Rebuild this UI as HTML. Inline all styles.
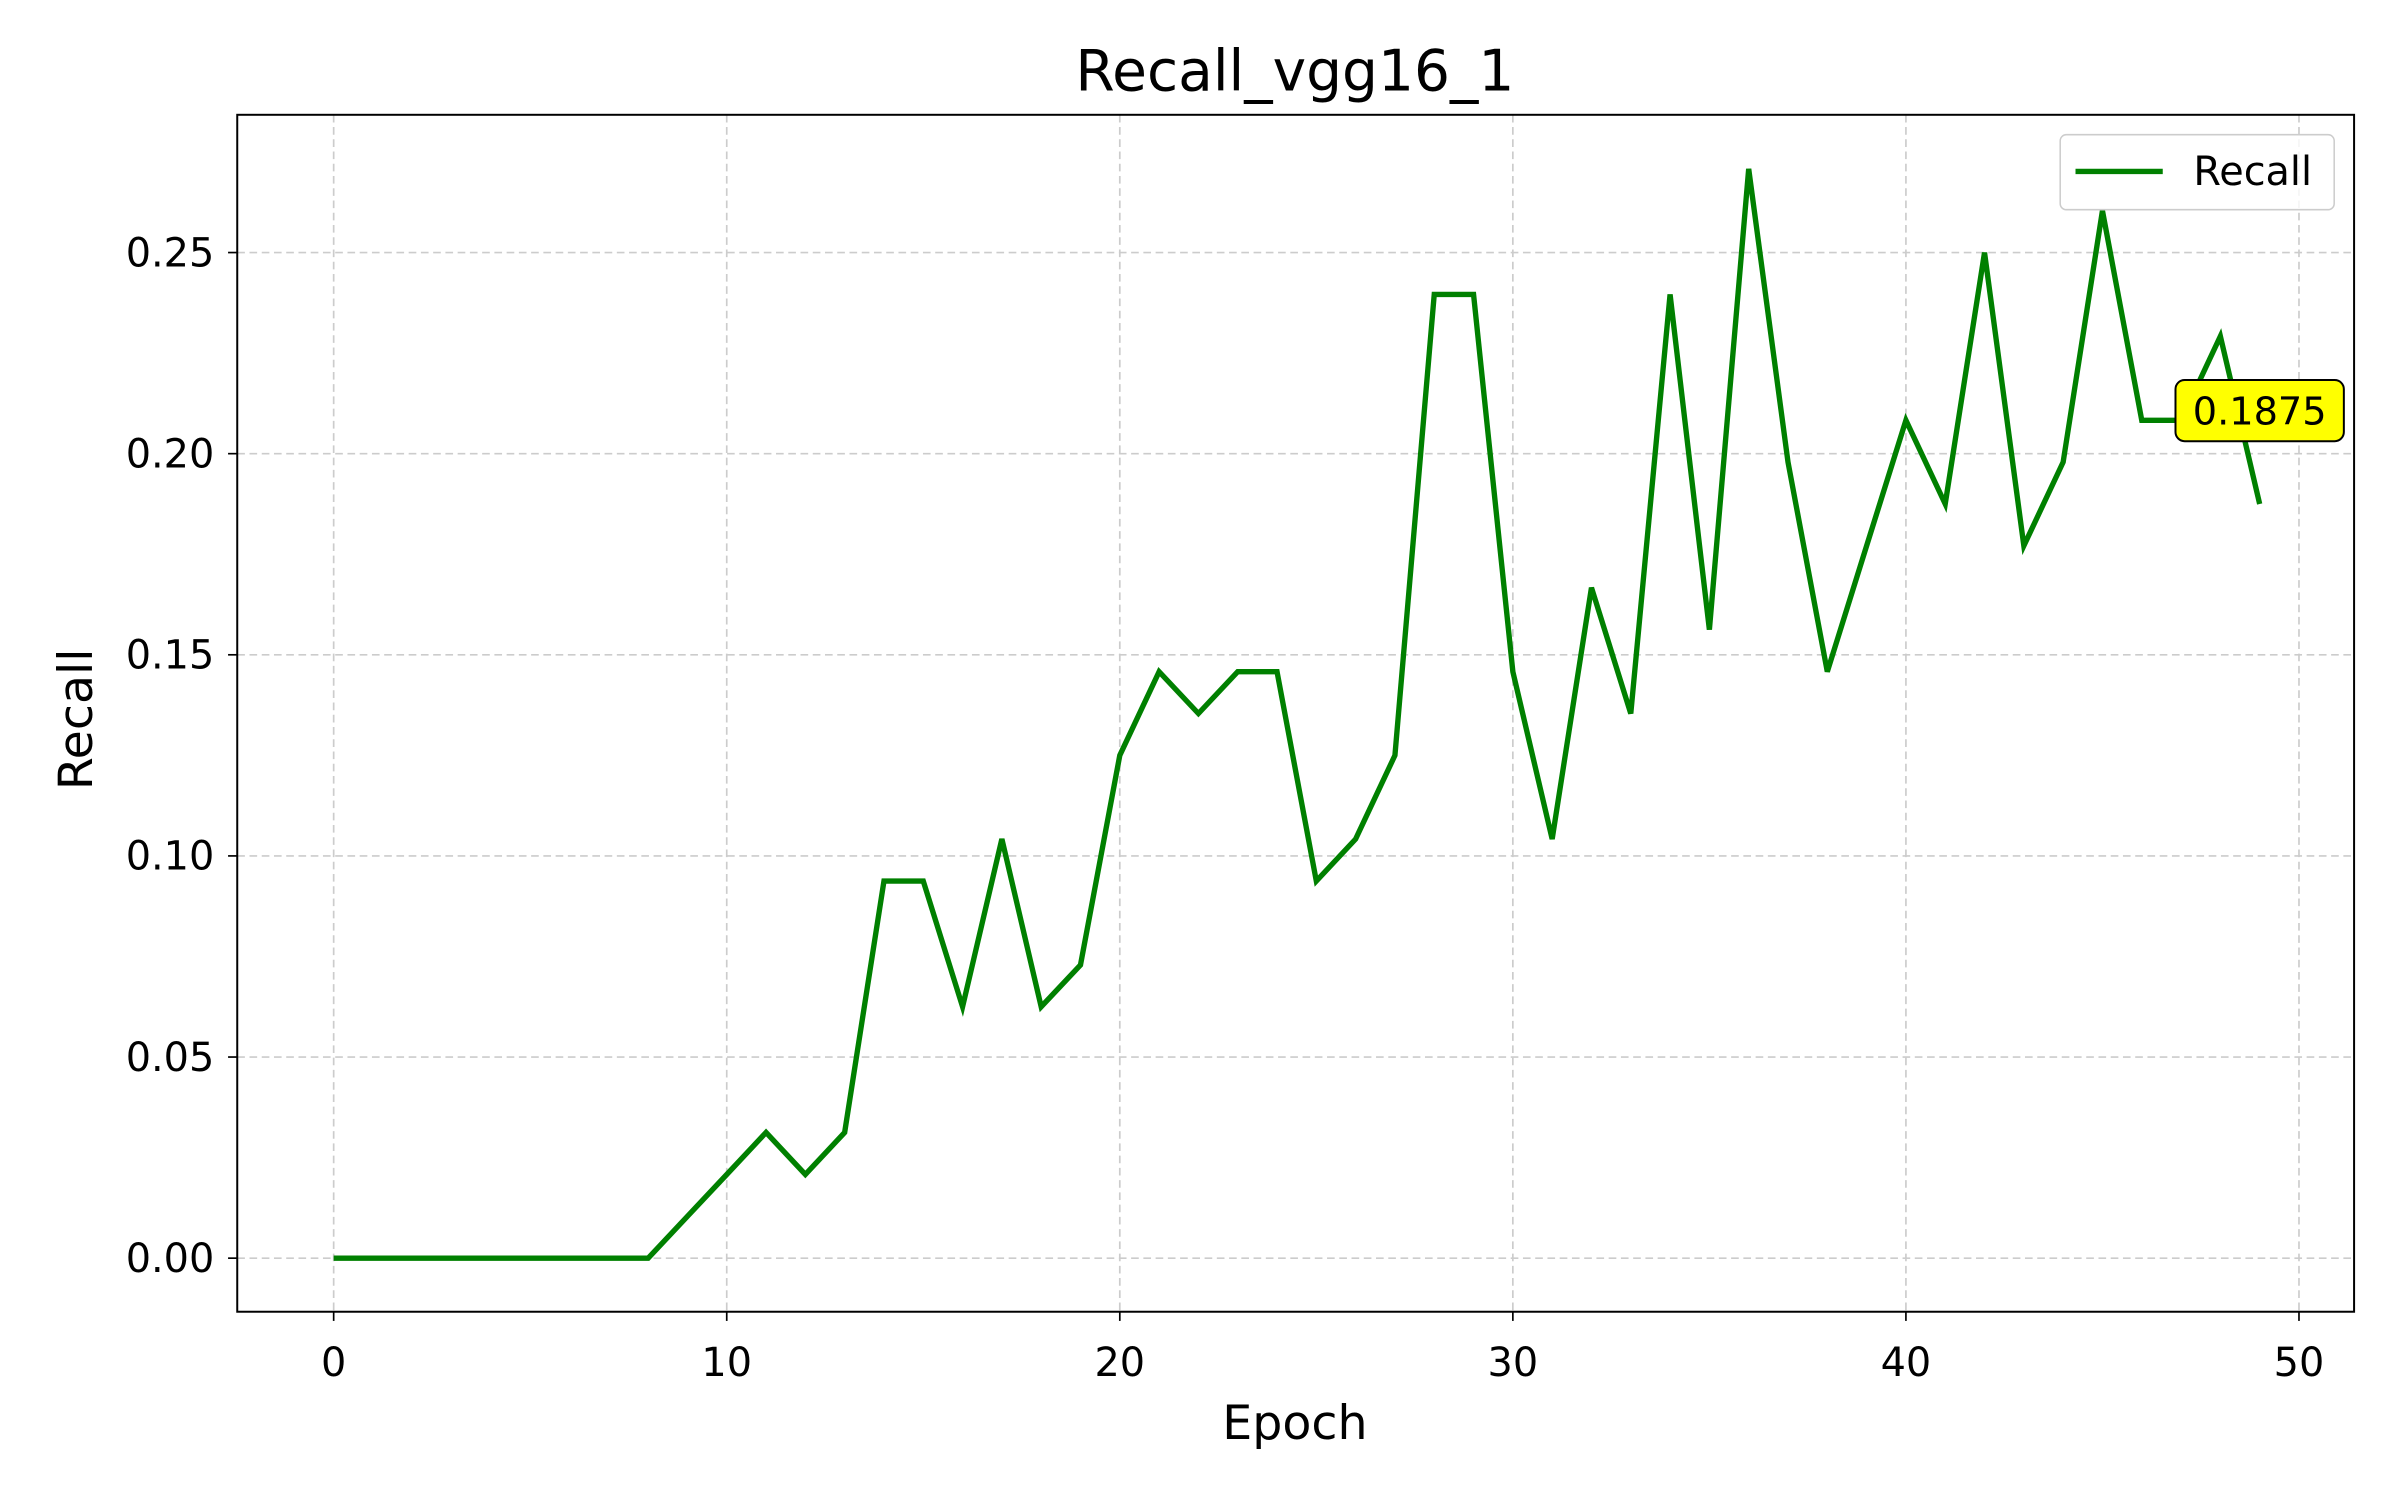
<!DOCTYPE html>
<html><head><meta charset="utf-8"><style>html,body{margin:0;padding:0;background:#fff}svg{display:block}text{font-family:"DejaVu Sans","Liberation Sans",sans-serif}</style></head>
<body>
<svg id="chart" width="2400" height="1500" viewBox="0 0 1568 980" xmlns="http://www.w3.org/2000/svg">
<rect width="1568" height="980" fill="#fff"/>
<g id="grid"></g>
<g id="ticks"></g>
<g id="plot"></g>
<rect x="155" y="75" width="1383" height="782" fill="none" stroke="#000" stroke-width="1.3"/>
<text x="846" y="59" font-size="37" text-anchor="middle">Recall_vgg16_1</text>
<text x="846" y="940" font-size="31" text-anchor="middle">Epoch</text>
<text x="0" y="0" font-size="31" text-anchor="middle" transform="translate(60,470) rotate(-90)">Recall</text>
<g>
<rect x="1346" y="88" width="179" height="49" rx="4" fill="#fff" fill-opacity="0.8" stroke="#ccc"/>
<line x1="1356" y1="112" x2="1413" y2="112" stroke="#008000" stroke-width="3.5"/>
<text x="1433" y="121" font-size="26">Recall</text>
</g>
</svg>
<script>
const epochs = [0,1,2,3,4,5,6,7,8,9,10,11,12,13,14,15,16,17,18,19,20,21,22,23,24,25,26,27,28,29,30,31,32,33,34,35,36,37,38,39,40,41,42,43,44,45,46,47,48,49];
const recall = [0,0,0,0,0,0,0,0,0,0.0104,0.0208,0.03125,0.0208,0.03125,0.09375,0.09375,0.0625,0.1042,0.0625,0.0729,0.125,0.1458,0.1354,0.1458,0.1458,0.09375,0.1042,0.125,0.2396,0.2396,0.1458,0.1042,0.1667,0.1354,0.2396,0.15625,0.2708,0.1979,0.1458,0.1771,0.2083,0.1875,0.25,0.1771,0.1979,0.2604,0.2083,0.2083,0.2292,0.1875];
const xTicks = [0,10,20,30,40,50];
const yTicks = [0,0.05,0.10,0.15,0.20,0.25];
const yTickLabels = ["0.00","0.05","0.10","0.15","0.20","0.25"];
const NS="http://www.w3.org/2000/svg";
function xs(v){return 218+(1502-218)*v/50;}
function ys(v){return 822-(822-165)*v/0.25;}
function mk(tag,attrs,parent){const e=document.createElementNS(NS,tag);for(const k in attrs)e.setAttribute(k,attrs[k]);parent.appendChild(e);return e;}
const grid=document.getElementById('grid'),ticks=document.getElementById('ticks'),plot=document.getElementById('plot');
xTicks.forEach(t=>{
  const g=mk('line',{x1:xs(t),x2:xs(t),y1:75,y2:857,stroke:'#ccc','stroke-dasharray':'5,3','stroke-width':1.1},grid);
  
  
  mk('line',{x1:xs(t),x2:xs(t),y1:857,y2:863,stroke:'#000','stroke-width':1.1},ticks);
  const l=mk('text',{x:xs(t),y:899,'font-size':26,'text-anchor':'middle'},ticks);
  l.textContent=t;
  
  
});
yTicks.forEach((t,i)=>{
  const g=mk('line',{x1:155,x2:1538,y1:ys(t),y2:ys(t),stroke:'#ccc','stroke-dasharray':'5,3','stroke-width':1.1},grid);
  
  
  mk('line',{x1:149,x2:155,y1:ys(t),y2:ys(t),stroke:'#000','stroke-width':1.1},ticks);
  const l=mk('text',{x:140,y:ys(t)+9,'font-size':26,'text-anchor':'end'},ticks);
  l.textContent=yTickLabels[i];
  
  
});
const pts=epochs.map((e,i)=>xs(e)+','+ys(recall[i])).join(' ');
const line=mk('polyline',{points:pts,fill:'none',stroke:'#008000','stroke-width':3.5,'stroke-linejoin':'miter'},plot);


const last=recall[recall.length-1];
const ax=xs(epochs[epochs.length-1]), ay=ys(last)-61;
const ann=mk('g',{},plot);


mk('rect',{x:ax-55,y:ay-20,width:110,height:40,rx:6,fill:'#ffff00',stroke:'#000','stroke-width':1.3},ann);
const at=mk('text',{x:ax,y:ay+9,'font-size':25,'text-anchor':'middle'},ann);
at.textContent=last.toFixed(4);
</script>
</body></html>
